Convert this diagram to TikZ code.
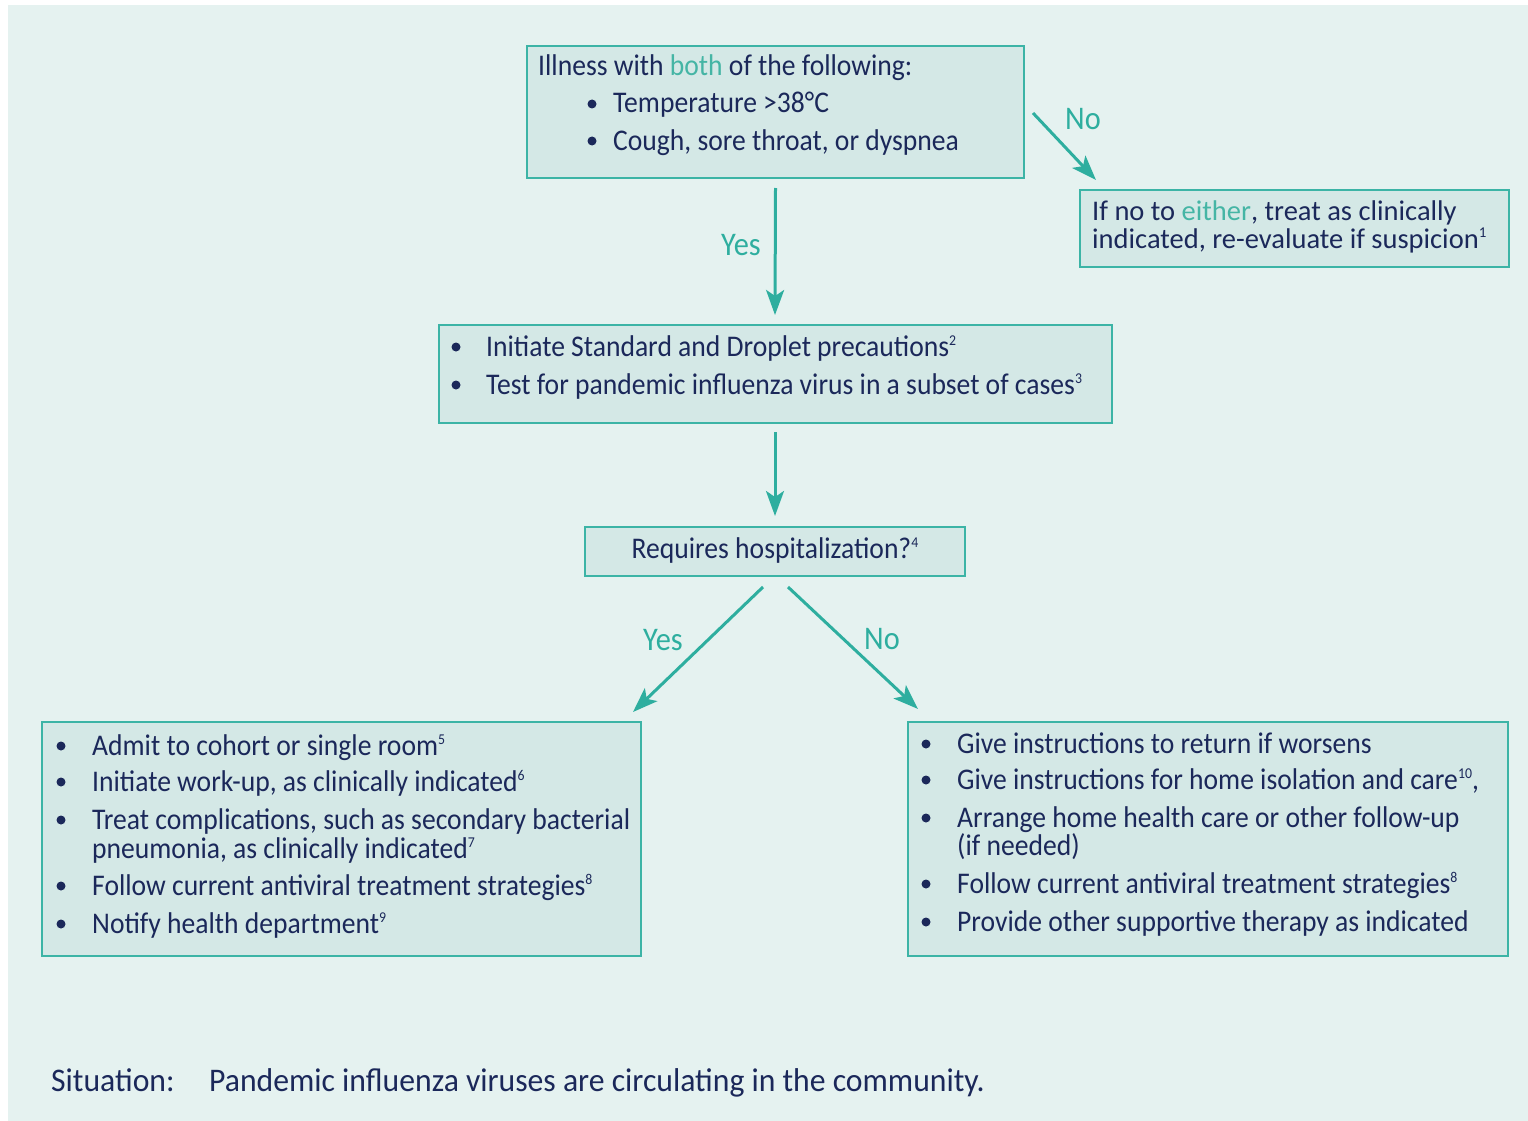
\documentclass[tikz,border=0pt]{standalone}
\usepackage{fontspec}
\setmainfont{Carlito}[FakeStretch=0.92]
\newfontfamily\sitfont{Carlito}[FakeStretch=0.96]
\newfontfamily\plainfont{Carlito}
\usetikzlibrary{arrows.meta}
\definecolor{bgc}{HTML}{E5F2F0}
\definecolor{boxfill}{HTML}{D4E8E6}
\definecolor{boxline}{HTML}{3CB4A6}
\definecolor{tealc}{HTML}{2EAE9F}
\definecolor{hlc}{HTML}{45B5A5}
\definecolor{navy}{HTML}{1B285A}
\newcommand\fnref[1]{\raisebox{0.75ex}{\fontsize{15}{15}\selectfont #1}}
\newcommand\hl[1]{\textcolor{hlc}{#1}}
\begin{document}
\begin{tikzpicture}[x=1pt,y=-1pt,
 box/.style={draw=boxline, line width=2pt, fill=boxfill, inner sep=0pt, outer sep=0pt},
 txt/.style={anchor=base west, inner sep=0pt, text=navy, font=\fontsize{30}{34}\selectfont},
 txtb/.style={anchor=base west, inner sep=0pt, text=navy, font=\plainfont\fontsize{28.5}{32}\selectfont},
 sit/.style={anchor=base west, inner sep=0pt, text=navy, font=\sitfont\fontsize{33}{38}\selectfont},
 lbl/.style={text=tealc, inner sep=0pt, font=\fontsize{33}{38}\selectfont},
 arr/.style={draw=tealc, line width=3pt, -{Stealth[length=25pt,width=18pt,inset=6pt]}},
 bul/.style={fill=navy}]
\useasboundingbox (0,0) rectangle (1528,1121);
\fill[bgc] (8,5) rectangle (1528,1121);

% boxes
\node[box, minimum width=497pt, minimum height=132pt] (A) at (775.5,112) {};
\node[box, minimum width=429pt, minimum height=77pt] (B) at (1294.5,228.5) {};
\node[box, minimum width=673pt, minimum height=98pt] (C) at (775,374) {};
\node[box, minimum width=380pt, minimum height=49pt] (D) at (775,551.5) {};
\node[box, minimum width=599pt, minimum height=234pt] (E) at (341.5,839) {};
\node[box, minimum width=600pt, minimum height=234pt] (F) at (1208,839) {};

% box A text
\node[txt] (a1) at (538,76) {Illness with \hl{both} of the following:};
\fill[bul] (592,104) circle (4.5);
\node[txt] (a2) at (613,113) {Temperature >38°C};
\fill[bul] (592,141) circle (4.5);
\node[txt] (a3) at (613,150) {Cough, sore throat, or dyspnea};

% box B text
\node[txtb] (b1) at (1092,220) {If no to \hl{either}, treat as clinically};
\node[txtb] (b2) at (1092,248) {indicated, re-evaluate if suspicion\fnref{1}};

% box C text
\fill[bul] (456,347) circle (4.5);
\node[txt] (c1) at (486,356) {Initiate Standard and Droplet precautions\fnref{2}};
\fill[bul] (456,385) circle (4.5);
\node[txt] (c2) at (486,394) {Test for pandemic influenza virus in a subset of cases\fnref{3}};

% box D text
\node[txt, anchor=base] (d1) at (775,558) {Requires hospitalization?\fnref{4}};

% box E text
\foreach \yy in {746,782,820,886,924} {\fill[bul] (61,\yy) circle (4.5);}
\node[txt] (e1) at (92,755) {Admit to cohort or single room\fnref{5}};
\node[txt] (e2) at (92,791) {Initiate work-up, as clinically indicated\fnref{6}};
\node[txt] (e3) at (92,829) {Treat complications, such as secondary bacterial};
\node[txt] (e4) at (92,858) {pneumonia, as clinically indicated\fnref{7}};
\node[txt] (e5) at (92,895) {Follow current antiviral treatment strategies\fnref{8}};
\node[txt] (e6) at (92,933) {Notify health department\fnref{9}};

% box F text
\foreach \yy in {744,780,818,884,922} {\fill[bul] (926,\yy) circle (4.5);}
\node[txt] (f1) at (957,753) {Give instructions to return if worsens};
\node[txt] (f2) at (957,789) {Give instructions for home isolation and care\fnref{10},};
\node[txt] (f3) at (957,827) {Arrange home health care or other follow-up};
\node[txt] (f4) at (957,855) {(if needed)};
\node[txt] (f5) at (957,893) {Follow current antiviral treatment strategies\fnref{8}};
\node[txt] (f6) at (957,931) {Provide other supportive therapy as indicated};

% arrows
\draw[arr] ([shift={(0,10)}]A.south) -- ([shift={(0,-10)}]C.north);
\draw[arr] ([shift={(9,1)}]A.east) -- ([shift={(16,-10)}]B.north west);
\draw[arr] ([shift={(0,9)}]C.south) -- ([shift={(0,-11)}]D.north);
\draw[arr] ([shift={(-12,11)}]D.south) -- ([shift={(-8,-10)}]E.north east);
\draw[arr] ([shift={(13,11)}]D.south) -- ([shift={(10,-13)}]F.north west);

% labels
\node[lbl] (l1) at (741,245) {Yes};
\node[lbl] (l2) at (1083,119) {No};
\node[lbl] (l3) at (663,640) {Yes};
\node[lbl] (l4) at (882,639) {No};

% situation
\node[sit] (s1) at (51,1091) {Situation:};
\node[sit] (s2) at (209,1091) {Pandemic influenza viruses are circulating in the community.};
\end{tikzpicture}
\end{document}
